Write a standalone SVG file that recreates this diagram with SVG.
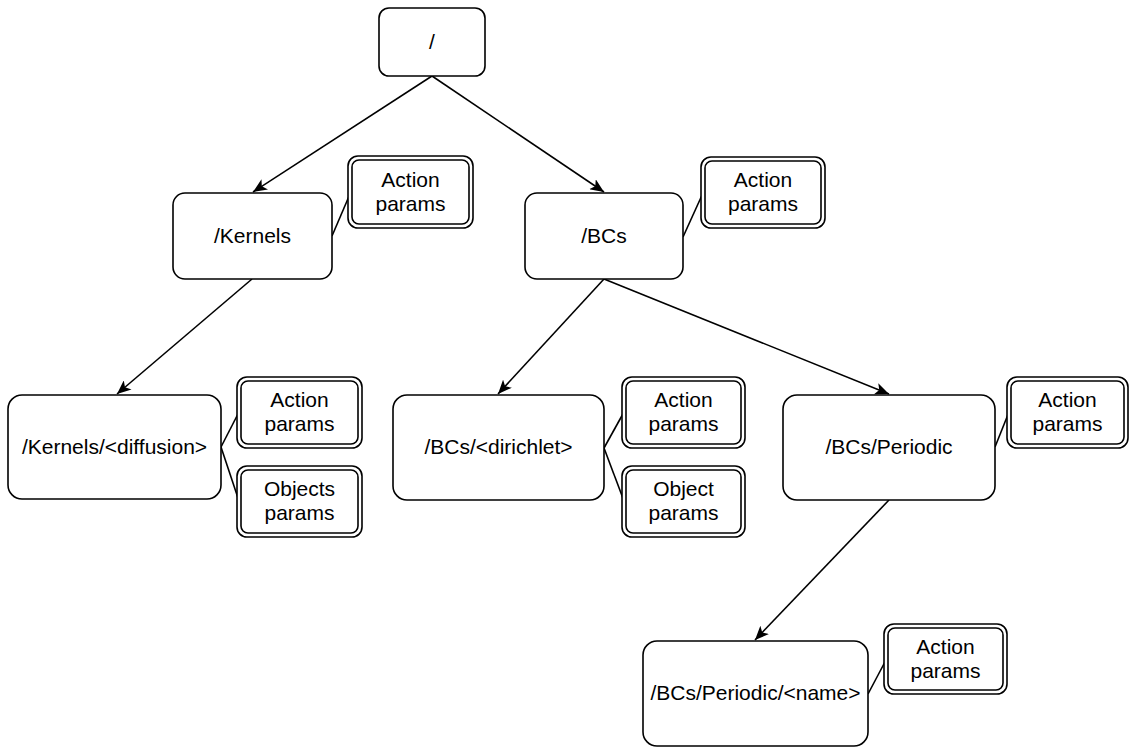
<svg xmlns="http://www.w3.org/2000/svg" width="1130" height="747" viewBox="0 0 1130 747">
<style>
.box{fill:#fff;stroke:#000;stroke-width:1.6}
.dbl{fill:none;stroke:#000;stroke-width:1.6}
.t{font-family:"Liberation Sans",Arial,sans-serif;font-size:21px;fill:#000;text-anchor:middle}
.c{stroke:#000;stroke-width:1.6;fill:none}
</style>
<defs>
<marker id="arr" viewBox="0 0 14 12" refX="14" refY="6" markerWidth="14" markerHeight="12" markerUnits="userSpaceOnUse" orient="auto">
<path d="M0,0 L14,6 L0,12 L3.5,6 z" fill="#000"/>
</marker>
</defs>
<g id="connectors">
<line class="c" x1="432" y1="76" x2="253" y2="192" marker-end="url(#arr)"/>
<line class="c" x1="432" y1="76" x2="604" y2="192" marker-end="url(#arr)"/>
<line class="c" x1="252" y1="279" x2="117" y2="394" marker-end="url(#arr)"/>
<line class="c" x1="604" y1="279" x2="498" y2="394" marker-end="url(#arr)"/>
<line class="c" x1="604" y1="279" x2="889" y2="394" marker-end="url(#arr)"/>
<line class="c" x1="889" y1="500" x2="755" y2="640" marker-end="url(#arr)"/>
<line class="c" x1="332" y1="236" x2="350" y2="194"/>
<line class="c" x1="683" y1="237" x2="703" y2="193"/>
<line class="c" x1="221" y1="447" x2="239" y2="412"/>
<line class="c" x1="221" y1="447" x2="239" y2="501"/>
<line class="c" x1="604" y1="448" x2="624" y2="412"/>
<line class="c" x1="604" y1="448" x2="624" y2="501"/>
<line class="c" x1="995" y1="447" x2="1009" y2="412"/>
<line class="c" x1="868" y1="694" x2="886" y2="660"/>
</g>
<g id="root">
<rect class="box" x="379" y="8" width="106" height="68" rx="10"/>
<text class="t" x="432" y="49">/</text>
</g>
<g id="kernels">
<rect class="box" x="173" y="193" width="159" height="86" rx="12"/>
<text class="t" x="252.5" y="243">/Kernels</text>
</g>
<g id="kernels-action">
<rect class="box" x="348" y="156" width="125" height="72" rx="10"/>
<rect class="dbl" x="352" y="160" width="117" height="64" rx="7"/>
<text class="t" x="410.5" y="187">Action</text>
<text class="t" x="410.5" y="211">params</text>
</g>
<g id="bcs">
<rect class="box" x="525" y="193" width="158" height="86" rx="12"/>
<text class="t" x="604" y="243">/BCs</text>
</g>
<g id="bcs-action">
<rect class="box" x="701" y="157" width="124" height="71" rx="10"/>
<rect class="dbl" x="705" y="161" width="116" height="63" rx="7"/>
<text class="t" x="763" y="187">Action</text>
<text class="t" x="763" y="211">params</text>
</g>
<g id="diffusion">
<rect class="box" x="8" y="395" width="213" height="104" rx="14"/>
<text class="t" x="114.5" y="454">/Kernels/&lt;diffusion&gt;</text>
</g>
<g id="diffusion-action">
<rect class="box" x="237" y="377" width="125" height="71" rx="10"/>
<rect class="dbl" x="241" y="381" width="117" height="63" rx="7"/>
<text class="t" x="299.5" y="407">Action</text>
<text class="t" x="299.5" y="431">params</text>
</g>
<g id="diffusion-objects">
<rect class="box" x="237" y="466" width="125" height="71" rx="10"/>
<rect class="dbl" x="241" y="470" width="117" height="63" rx="7"/>
<text class="t" x="299.5" y="496">Objects</text>
<text class="t" x="299.5" y="520">params</text>
</g>
<g id="dirichlet">
<rect class="box" x="393" y="395" width="211" height="105" rx="14"/>
<text class="t" x="498.5" y="454">/BCs/&lt;dirichlet&gt;</text>
</g>
<g id="dirichlet-action">
<rect class="box" x="622" y="377" width="123" height="71" rx="10"/>
<rect class="dbl" x="626" y="381" width="115" height="63" rx="7"/>
<text class="t" x="683.5" y="407">Action</text>
<text class="t" x="683.5" y="431">params</text>
</g>
<g id="dirichlet-object">
<rect class="box" x="622" y="466" width="123" height="71" rx="10"/>
<rect class="dbl" x="626" y="470" width="115" height="63" rx="7"/>
<text class="t" x="683.5" y="496">Object</text>
<text class="t" x="683.5" y="520">params</text>
</g>
<g id="periodic">
<rect class="box" x="783" y="395" width="212" height="105" rx="14"/>
<text class="t" x="889" y="454">/BCs/Periodic</text>
</g>
<g id="periodic-action">
<rect class="box" x="1007" y="377" width="121" height="71" rx="10"/>
<rect class="dbl" x="1011" y="381" width="113" height="63" rx="7"/>
<text class="t" x="1067.5" y="407">Action</text>
<text class="t" x="1067.5" y="431">params</text>
</g>
<g id="name">
<rect class="box" x="643" y="641" width="225" height="105" rx="14"/>
<text class="t" x="755.5" y="700">/BCs/Periodic/&lt;name&gt;</text>
</g>
<g id="name-action">
<rect class="box" x="884" y="624" width="123" height="70" rx="10"/>
<rect class="dbl" x="888" y="628" width="115" height="62" rx="7"/>
<text class="t" x="945.5" y="654">Action</text>
<text class="t" x="945.5" y="678">params</text>
</g>
</svg>
